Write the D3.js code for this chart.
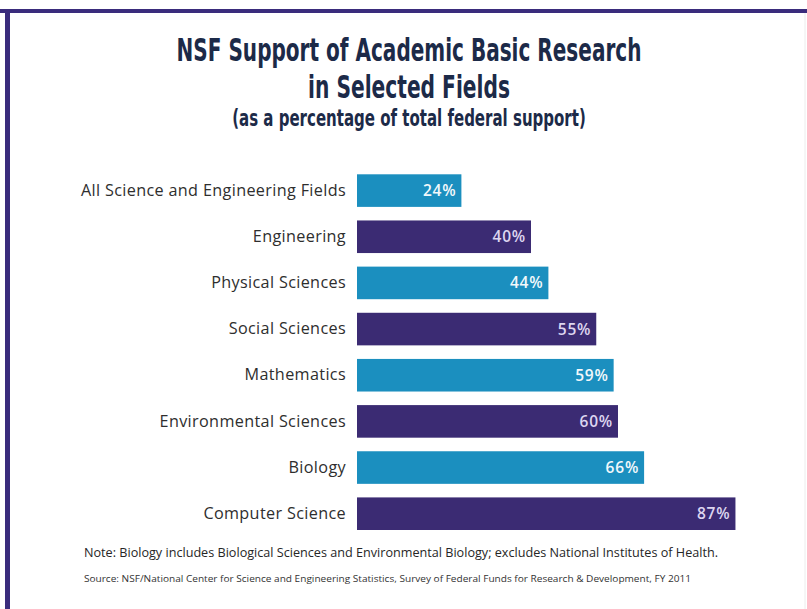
<!DOCTYPE html>
<html>
<head>
<meta charset="utf-8">
<script src="https://cdn.jsdelivr.net/npm/d3@7"></script>
<style>
  html, body { margin: 0; padding: 0; background: #fff; }
  svg { display: block; }
</style>
</head>
<body>
<svg id="chart" width="807" height="609"></svg>
<script>
// ---- data ----
const categories = [
  "All Science and Engineering Fields",
  "Engineering",
  "Physical Sciences",
  "Social Sciences",
  "Mathematics",
  "Environmental Sciences",
  "Biology",
  "Computer Science"
];
const values = [24, 40, 44, 55, 59, 60, 66, 87];
const valueLabels = ["24%", "40%", "44%", "55%", "59%", "60%", "66%", "87%"];
const titleLines = ["NSF Support of Academic Basic Research", "in Selected Fields"];
const subtitle = "(as a percentage of total federal support)";
const note = "Note: Biology includes Biological Sciences and Environmental Biology; excludes National Institutes of Health.";
const source = "Source: NSF/National Center for Science and Engineering Statistics, Survey of Federal Funds for Research & Development, FY 2011";

// ---- drawing ----
const svg = d3.select("#chart");
const W = 807, H = 609;
const teal = "#1b8fbf", purple = "#3b2b73", frame = "#3a2c7c";

svg.append("rect").attr("width", W).attr("height", H).attr("fill", "#fff");
// frame
svg.append("rect").attr("x", 0).attr("y", 9).attr("width", W).attr("height", 4).attr("fill", frame);
svg.append("rect").attr("x", 5).attr("y", 9).attr("width", 5).attr("height", H - 9).attr("fill", frame);
svg.append("line").attr("x1", 805).attr("x2", 805).attr("y1", 13).attr("y2", H)
  .attr("stroke", "#ececec").attr("stroke-width", 1);

// titles (condensed horizontally to mimic the narrow display face)
const titleFont = "'Liberation Sans Narrow', 'DejaVu Sans Condensed', sans-serif";
const titleSpecs = [
  {text: titleLines[0], y: 61, len: 465, size: 32},
  {text: titleLines[1], y: 98, len: 202, size: 32},
  {text: subtitle, y: 126, len: 354, size: 23}
];
titleSpecs.forEach(d => {
  const g = svg.append("g");
  const t = g.append("text")
    .attr("x", 0).attr("y", 0)
    .attr("text-anchor", "middle")
    .attr("font-family", titleFont)
    .attr("font-weight", "bold")
    .attr("font-size", d.size)
    .attr("fill", "#1c2a48")
    .text(d.text);
  const natural = t.node().getComputedTextLength() || d.len;
  const s = d.len / natural;
  g.attr("transform", `translate(409,${d.y}) scale(${s},1)`);
});

// scales
const x = d3.scaleLinear().domain([0, 100]).range([357, 792]);
const y = d3.scaleBand().domain(categories).range([174.3, 530])
  .paddingInner(0.294).paddingOuter(0);

const data = categories.map((c, i) => ({cat: c, val: values[i], label: valueLabels[i], i}));

// bars
svg.append("g").selectAll("rect").data(data).join("rect")
  .attr("x", x(0))
  .attr("y", d => y(d.cat))
  .attr("width", d => x(d.val) - x(0))
  .attr("height", y.bandwidth())
  .attr("fill", d => d.i % 2 === 0 ? teal : purple);

// value labels
svg.append("g").selectAll("text").data(data).join("text")
  .attr("x", d => x(d.val) - 5)
  .attr("y", d => y(d.cat) + y.bandwidth() / 2)
  .attr("dy", "0.36em")
  .attr("text-anchor", "end")
  .attr("font-family", "'Open Sans', sans-serif")
  .attr("font-weight", 600)
  .attr("font-size", 15.5)
  .attr("letter-spacing", 0.8)
  .attr("fill", d => d.i % 2 === 0 ? "#f2f8fb" : "#ddd6f0")
  .text(d => d.label);

// category axis
const axis = d3.axisLeft(y).tickSize(0).tickPadding(0);
const gAxis = svg.append("g").attr("transform", "translate(346,0)").call(axis);
gAxis.select(".domain").remove();
gAxis.selectAll("text")
  .attr("font-family", "'Open Sans', sans-serif")
  .attr("font-size", 16.2)
  .attr("letter-spacing", 0.35)
  .attr("fill", "#2e2e2e");

// notes
svg.append("text")
  .attr("x", 84).attr("y", 557)
  .attr("font-family", "'Open Sans', sans-serif")
  .attr("font-size", 13)
  .attr("fill", "#262626")
  .attr("textLength", 634)
  .attr("lengthAdjust", "spacingAndGlyphs")
  .text(note);
svg.append("text")
  .attr("x", 84).attr("y", 582)
  .attr("font-family", "'Open Sans', sans-serif")
  .attr("font-size", 9.8)
  .attr("fill", "#333")
  .attr("textLength", 607)
  .attr("lengthAdjust", "spacingAndGlyphs")
  .text(source);
</script>
</body>
</html>
